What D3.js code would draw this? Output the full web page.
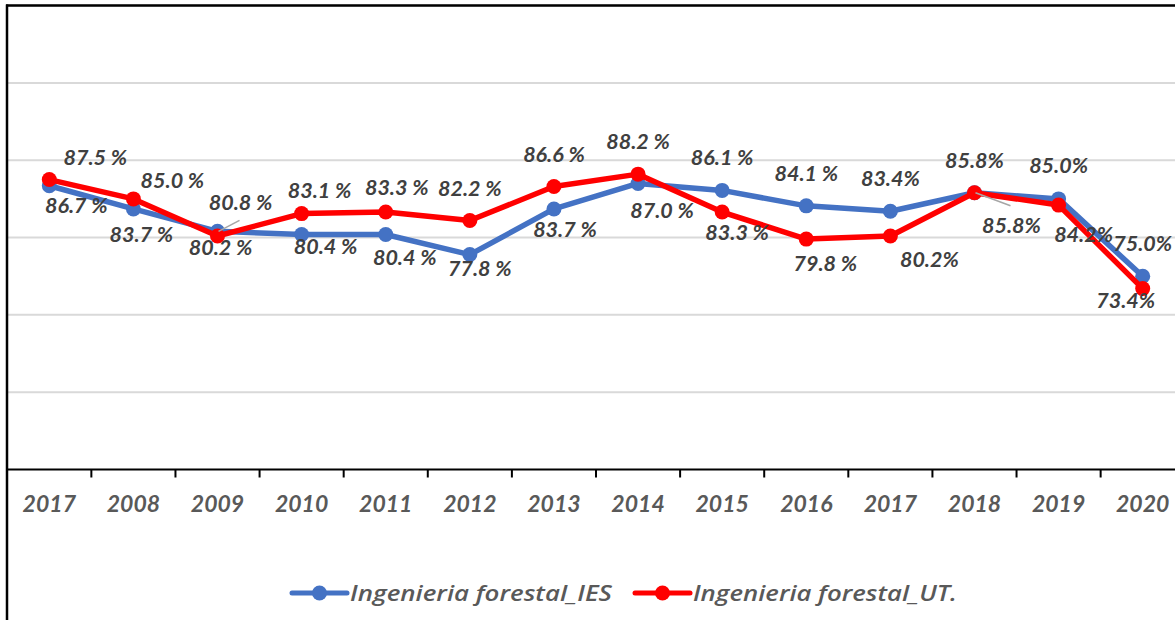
<!DOCTYPE html>
<html>
<head>
<meta charset="utf-8">
<script src="https://cdn.jsdelivr.net/npm/d3@7"></script>
<style>
  html, body { margin: 0; padding: 0; background: #fff; }
  svg { display: block; }
</style>
</head>
<body>
<svg id="chart" width="1175" height="620"></svg>
<script>
// ---- data ----
const categories = ["2017","2008","2009","2010","2011","2012","2013","2014","2015","2016","2017","2018","2019","2020"];
const seriesNames = ["Ingenieria forestal_IES", "Ingenieria forestal_UT."];
const iesValues = [86.7, 83.7, 80.8, 80.4, 80.4, 77.8, 83.7, 87.0, 86.1, 84.1, 83.4, 85.8, 85.0, 75.0];
const utValues  = [87.5, 85.0, 80.2, 83.1, 83.3, 82.2, 86.6, 88.2, 83.3, 79.8, 80.2, 85.8, 84.2, 73.4];
const iesLabels = ["86.7 %","83.7 %","80.8 %","80.4 %","80.4 %","77.8 %","83.7 %","87.0 %","86.1 %","84.1 %","83.4%","85.8%","85.0%","75.0%"];
const utLabels  = ["87.5 %","85.0 %","80.2 %","83.1 %","83.3 %","82.2 %","86.6 %","88.2 %","83.3 %","79.8 %","80.2%","85.8%","84.2%","73.4%"];
const yTicks = [50, 60, 70, 80, 90, 100, 110];

// ---- layout (label offsets from point: [dx, dy baseline], leader flag) ----
const iesLabelPos = [[27,27],[8,33],[23,-21,1],[24,20],[19,31],[10,21],[11,28],[24,35],[0,-25],[0,-25],[0,-25],[37,40,1],[0,-26],[0,-25]];
const utLabelPos  = [[46,-15],[39,-11],[3,19],[18,-16],[11,-17],[0,-25],[0,-25],[0,-25],[15,28],[19,32],[39,31],[0,-25],[25,37],[-17,19]];
const colors = ["#4472C4", "#FF0000"];

const svg = d3.select("#chart");
const W = 1175, H = 620;
const FONT = "Lato, 'Open Sans', sans-serif";

const x = d3.scaleBand().domain(d3.range(categories.length)).range([7.25, 1184.75]).padding(0);
const y = d3.scaleLinear().domain([50, 110]).range([469.5, 5.6]);
const cx = i => x(i) + x.bandwidth() / 2;

// gridlines
svg.append("g").selectAll("line").data(yTicks.filter(t => t > 50)).join("line")
  .attr("x1", 7).attr("x2", W)
  .attr("y1", d => y(d)).attr("y2", d => y(d))
  .attr("stroke", "#d9d9d9").attr("stroke-width", 2);

// chart border (top & left)
svg.append("line").attr("x1", 6).attr("x2", W).attr("y1", 5.5).attr("y2", 5.5)
  .attr("stroke", "#000").attr("stroke-width", 2.5);
svg.append("line").attr("x1", 7).attr("x2", 7).attr("y1", 4.5).attr("y2", H)
  .attr("stroke", "#000").attr("stroke-width", 2.5);

// x axis
const axisG = svg.append("g").attr("transform", `translate(0,${y(50)})`);
axisG.call(d3.axisBottom(x).tickSize(0).tickFormat(i => categories[i]));
axisG.select(".domain").remove();
axisG.append("line").attr("x1", 7).attr("x2", W).attr("y1", 0).attr("y2", 0)
  .attr("stroke", "#000").attr("stroke-width", 2);
axisG.selectAll(".boundTick").data(d3.range(1, categories.length)).join("line")
  .attr("class", "boundTick")
  .attr("x1", i => x(i)).attr("x2", i => x(i))
  .attr("y1", 0).attr("y2", 8)
  .attr("stroke", "#000").attr("stroke-width", 2);
axisG.selectAll(".tick text")
  .attr("y", 42.5).attr("dy", 0)
  .attr("font-family", FONT)
  .attr("font-size", 23).attr("font-weight", "bold").attr("font-style", "italic")
  .attr("fill", "#595959");

// lines & markers
const series = [
  {name: seriesNames[0], values: iesValues, labels: iesLabels, pos: iesLabelPos, color: colors[0]},
  {name: seriesNames[1], values: utValues, labels: utLabels, pos: utLabelPos, color: colors[1]}
];
const line = d3.line().x((d, i) => cx(i)).y(d => y(d));

series.forEach(s => {
  svg.append("path").datum(s.values)
    .attr("d", line).attr("fill", "none")
    .attr("stroke", s.color).attr("stroke-width", 5.5).attr("stroke-linejoin", "round");
  svg.append("g").selectAll("circle").data(s.values).join("circle")
    .attr("cx", (d, i) => cx(i)).attr("cy", d => y(d)).attr("r", 7.5)
    .attr("fill", s.color);
});

// labels
series.forEach(s => {
  const g = svg.append("g");
  s.values.forEach((v, i) => {
    const p = s.pos[i];
    const lx = cx(i) + p[0], ly = y(v) + p[1];
    if (p[2]) {
      const above = p[1] < 0;
      g.append("line")
        .attr("x1", lx - 1).attr("y1", above ? ly + 10 : ly - 27)
        .attr("x2", cx(i) + 1).attr("y2", y(v))
        .attr("stroke", "#a6a6a6").attr("stroke-width", 1.5);
    }
    g.append("text").attr("x", lx).attr("y", ly)
      .attr("text-anchor", "middle")
      .attr("font-family", FONT)
      .attr("font-size", 21.5).attr("font-weight", "bold").attr("font-style", "italic")
      .attr("fill", "#404040")
      .text(s.labels[i]);
  });
});

// legend
const legend = svg.append("g");
const legendItems = [{x: 292, color: colors[0], name: seriesNames[0], w: 262}, {x: 635, color: colors[1], name: seriesNames[1], w: 264}];
legendItems.forEach(li => {
  legend.append("line").attr("x1", li.x).attr("x2", li.x + 55).attr("y1", 593).attr("y2", 593)
    .attr("stroke", li.color).attr("stroke-width", 5).attr("stroke-linecap", "round");
  legend.append("circle").attr("cx", li.x + 27.5).attr("cy", 593).attr("r", 7.5).attr("fill", li.color);
  legend.append("text").attr("x", li.x + 58).attr("y", 601)
    .attr("font-family", "'Open Sans', Lato, sans-serif")
    .attr("font-size", 22).attr("font-style", "italic").attr("font-weight", 600)
    .attr("fill", "#595959")
    .attr("textLength", li.w).attr("lengthAdjust", "spacingAndGlyphs")
    .text(li.name);
});
</script>
</body>
</html>
